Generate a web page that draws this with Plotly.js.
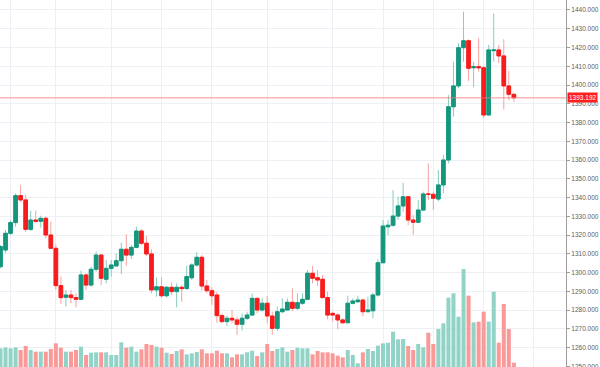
<!DOCTYPE html>
<html>
<head>
<meta charset="utf-8">
<script src="https://cdn.plot.ly/plotly-3.0.1.min.js"></script>
<style>html,body{margin:0;padding:0;background:#fff;}#chart{width:600px;height:367px;}</style>
</head>
<body>
<div id="chart"></div>
<script>
const openP = [
1303.1,1312.0,1320.9,1326.6,1341.0,1338.7,1323.0,1328.0,1327.3,1328.9,
1320.0,1312.9,1293.0,1286.8,1288.0,1286.6,1285.7,1298.7,1293.3,1301.7,
1309.3,1296.4,1302.2,1303.5,1306.3,1312.4,1309.3,1313.4,1322.1,1315.6,
1309.9,1290.7,1292.4,1287.6,1292.1,1289.8,1292.1,1291.4,1297.2,1304.0,
1308.1,1292.8,1290.3,1288.0,1277.0,1273.8,1275.6,1274.7,1272.4,1275.6,
1277.3,1286.2,1280.0,1283.6,1276.8,1270.2,1279.1,1280.0,1284.1,1280.9,
1283.6,1285.7,1299.6,1297.2,1296.4,1286.6,1278.2,1277.3,1274.7,1273.2,
1283.6,1284.4,1285.3,1279.1,1279.6,1288.0,1305.2,1324.4,1325.2,1330.1,
1335.5,1340.4,1328.0,1326.8,1333.3,1341.9,1341.7,1339.2,1346.7,1360.0,
1388.4,1399.5,1419.9,1423.6,1409.2,1409.8,1409.2,1384.0,1418.3,1418.7,
1415.5,1399.5,1395.0];
const highP = [
1314.7,1322.7,1328.0,1342.2,1346.7,1341.3,1333.0,1333.0,1330.3,1329.8,
1327.1,1315.0,1297.8,1290.7,1290.7,1288.9,1301.0,1299.6,1303.1,1311.1,
1309.9,1306.7,1306.7,1310.2,1315.9,1320.4,1314.7,1324.4,1323.2,1319.5,
1312.4,1297.4,1297.4,1292.8,1294.6,1294.2,1293.3,1303.6,1304.9,1310.8,
1309.3,1296.0,1292.1,1289.8,1278.2,1277.0,1280.0,1276.4,1278.2,1279.1,
1288.9,1286.6,1286.2,1287.5,1279.1,1281.8,1286.2,1286.2,1291.6,1288.9,
1288.9,1301.3,1303.5,1301.3,1298.7,1289.8,1279.1,1278.2,1275.6,1287.6,
1286.2,1287.6,1286.0,1287.1,1289.2,1307.0,1328.0,1328.0,1344.0,1340.4,
1347.9,1340.6,1330.7,1338.7,1343.1,1358.2,1343.1,1354.7,1362.7,1394.7,
1412.4,1422.2,1439.1,1424.4,1412.4,1424.9,1410.1,1421.3,1438.2,1421.3,
1424.4,1407.6,1395.9];
const lowP = [
1302.2,1310.2,1320.0,1324.4,1337.4,1321.8,1322.1,1326.6,1323.9,1318.2,
1312.5,1290.7,1283.2,1281.8,1283.6,1281.4,1285.3,1290.7,1292.4,1300.4,
1293.3,1294.2,1297.8,1303.1,1299.2,1303.6,1307.2,1312.9,1314.7,1308.8,
1288.9,1287.1,1286.6,1286.6,1288.0,1281.4,1284.4,1291.0,1296.0,1303.1,
1290.3,1288.9,1282.7,1273.2,1272.9,1271.5,1272.9,1266.7,1269.0,1274.7,
1276.8,1278.2,1279.1,1272.9,1266.7,1268.8,1278.2,1279.6,1279.6,1280.0,
1282.7,1285.3,1294.2,1292.8,1286.2,1275.0,1273.8,1269.7,1272.5,1273.0,
1283.0,1283.9,1276.6,1278.8,1275.6,1287.1,1304.9,1320.0,1324.4,1328.0,
1332.4,1325.3,1320.0,1326.6,1333.1,1338.7,1333.3,1338.0,1342.2,1358.2,
1383.1,1398.2,1412.4,1402.1,1398.8,1407.1,1382.2,1383.8,1412.4,1411.6,
1387.0,1392.0,1391.1];
const closeP = [
1313.8,1320.9,1326.6,1341.0,1338.7,1323.0,1328.0,1327.3,1328.9,1320.0,
1312.9,1293.0,1286.6,1288.0,1286.6,1285.7,1298.7,1293.3,1301.7,1309.3,
1296.9,1302.2,1304.0,1306.3,1312.4,1309.3,1313.4,1322.1,1315.6,1309.9,
1290.7,1292.4,1287.6,1292.1,1289.8,1292.1,1291.4,1297.8,1304.0,1308.1,
1292.8,1290.3,1287.6,1277.0,1273.8,1275.6,1274.7,1272.4,1275.6,1277.3,
1286.2,1280.0,1283.6,1276.8,1270.2,1279.1,1280.5,1284.1,1280.9,1283.9,
1285.7,1299.6,1296.9,1296.0,1286.6,1277.3,1277.3,1274.7,1273.2,1283.6,
1284.8,1285.3,1279.1,1280.0,1288.0,1305.2,1324.8,1325.2,1330.1,1335.5,
1340.4,1328.0,1326.8,1333.3,1341.9,1341.7,1339.6,1346.7,1360.0,1388.4,
1399.5,1419.9,1423.6,1408.9,1409.8,1409.2,1384.0,1418.7,1418.7,1415.5,
1399.5,1395.0,1393.192];
const volume = [
56,59,56,59,51,63,51,46,46,46,
54,71,58,46,46,51,61,36,43,44,
44,44,36,36,74,58,61,46,53,69,
66,61,58,43,39,48,53,38,41,45,
53,41,41,49,41,41,29,38,38,44,
49,33,44,69,48,54,59,46,51,58,
56,56,38,48,44,44,41,34,29,51,
36,11,44,54,48,64,71,73,106,83,
84,63,51,69,59,103,69,114,131,208,
221,151,294,214,134,136,166,136,226,73,
189,114,13];
const priceTicks = [1250,1260,1270,1280,1290,1300,1310,1320,1330,1340,1350,1360,1370,1380,1390,1400,1410,1420,1430,1440];
const lastPrice = 1393.192;
const timeGrid = [2,11,22,32,42,53,66,76,86,96,106];

const x = openP.map((_, i) => i);
const up = closeP.map((c, i) => c >= openP[i]);
const bodyHi = openP.map((o, i) => Math.max(o, closeP[i]));
const bodyLo = openP.map((o, i) => Math.min(o, closeP[i]));

const GREEN = '#15967d', RED = '#f81c1c';
const GREEN_W = '#86cdbf', RED_W = '#f7a1a1';
const VOL_G = '#92d3c7', VOL_R = '#f99a98';

const traces = [
  {type:'bar', x:x, y:volume, yaxis:'y2', width:0.8,
   marker:{color: up.map(u => u ? VOL_G : VOL_R), line:{width:0}}, hoverinfo:'skip'},
  {type:'candlestick', x:x, open:openP, high:highP, low:lowP, close:closeP,
   increasing:{line:{color:GREEN_W, width:1}, fillcolor:GREEN_W},
   decreasing:{line:{color:RED_W, width:1}, fillcolor:RED_W},
   whiskerwidth:0, hoverinfo:'skip'},
  {type:'candlestick', x:x, open:openP, high:bodyHi, low:bodyLo, close:closeP,
   increasing:{line:{color:GREEN, width:1}, fillcolor:GREEN},
   decreasing:{line:{color:RED, width:1}, fillcolor:RED},
   whiskerwidth:0, hoverinfo:'skip'}
];

const layout = {
  width:600, height:367,
  margin:{l:0, r:34, t:0, b:0},
  paper_bgcolor:'#ffffff', plot_bgcolor:'#ffffff',
  showlegend:false, hovermode:false,
  boxgap:0.2, boxgroupgap:0.1,
  xaxis:{range:[-0.1, 112.36], tickvals:timeGrid, showticklabels:false, ticks:'',
         showgrid:true, gridcolor:'#eceff4', gridwidth:1, zeroline:false, showline:false,
         rangeslider:{visible:false}, fixedrange:true},
  yaxis:{range:[1249.6, 1445.33], side:'right', tickvals:priceTicks, tickformat:'.3f',
         showgrid:true, gridcolor:'#eceff4', gridwidth:1, zeroline:false,
         showline:true, linecolor:'#a09a9a', linewidth:1,
         ticks:'outside', ticklen:3, tickcolor:'#a09a9a', tickwidth:1,
         ticklabeloverflow:'allow',
         tickfont:{family:'Liberation Sans, Arial, sans-serif', size:6.5, color:'#5d5d5d'},
         fixedrange:true},
  yaxis2:{overlaying:'y', range:[0, 1101], visible:false, fixedrange:true},
  shapes:[{type:'line', xref:'paper', x0:0, x1:1, yref:'y', y0:lastPrice, y1:lastPrice,
           line:{color:'rgba(245,120,120,0.55)', width:1.5}}],
  annotations:[{xref:'paper', x:1, xanchor:'left', xshift:1, yref:'y', y:lastPrice, yanchor:'middle',
                text:lastPrice.toFixed(3), showarrow:false, bgcolor:'#ff1f1f', borderpad:1,
                font:{family:'Liberation Sans, Arial, sans-serif', size:6.5, color:'#ffffff'}}]
};

Plotly.newPlot('chart', traces, layout, {displayModeBar:false, staticPlot:true});
</script>
</body>
</html>
